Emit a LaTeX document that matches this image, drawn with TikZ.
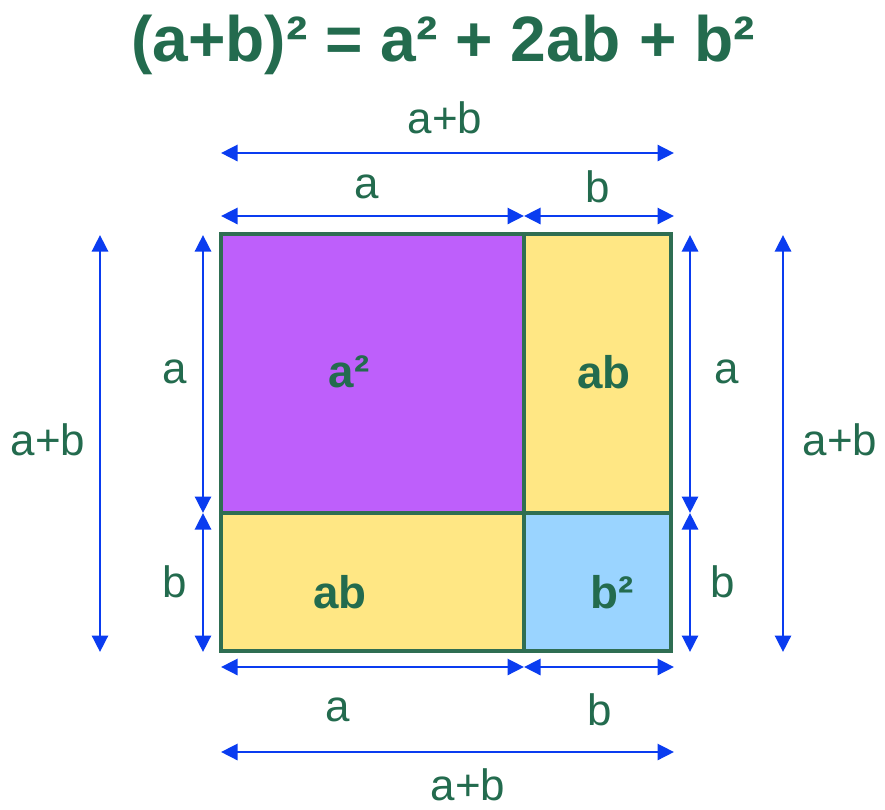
\documentclass[tikz,border=0pt]{standalone}
\usepackage{fontspec}
\setmainfont{Liberation Sans}
\usetikzlibrary{arrows.meta,positioning,calc}
\definecolor{labelgreen}{HTML}{236B4E}
\definecolor{edgegreen}{HTML}{2F6E52}
\definecolor{dimblue}{HTML}{0A3CF0}
\definecolor{areaa}{HTML}{BE5FFB}
\definecolor{areaab}{HTML}{FFE784}
\definecolor{areab}{HTML}{9AD4FF}
\tikzset{
  cell/.style={draw=edgegreen,line width=1.9pt},
  dimarrow/.style={{Triangle[length=0.33cm,width=0.32cm]}-{Triangle[length=0.33cm,width=0.32cm]},line width=1.6pt,dimblue},
  dimlabel/.style={font=\fontsize{25}{30}\selectfont,text=labelgreen},
  arealabel/.style={font=\fontsize{26}{30}\selectfont\bfseries,text=labelgreen},
  titlelabel/.style={font=\fontsize{36.5}{44}\selectfont\bfseries,text=labelgreen}
}
\begin{document}
\begin{tikzpicture}[x=0.02cm,y=-0.02cm]
  \useasboundingbox (0,0) rectangle (885,809);

  % square corners and splits
  \coordinate (tl) at (221,234);
  \coordinate (br) at (671,651);
  \coordinate (mid) at (524,513);

  % the four areas
  \fill[areaa] (tl) rectangle (mid);
  \fill[areaab] (524,234) rectangle (671,513);
  \fill[areaab] (221,513) rectangle (524,651);
  \fill[areab] (mid) rectangle (br);
  \draw[cell] (tl) rectangle (br);
  \draw[cell] (524,234) -- (524,651);
  \draw[cell] (221,513) -- (671,513);

  \node[arealabel] (sqa) at (349,372) {a²};
  \node[arealabel] (abtop) at (604,372) {ab};
  \node[arealabel] (abbot) at (340,592) {ab};
  \node[arealabel] (sqb) at (612,592) {b²};

  \node[titlelabel] (title) at (443,45) {(a+b)² = a² + 2ab + b²};

  % top dimensions
  \coordinate (t1l) at (221,153);
  \coordinate (t1r) at (674,153);
  \coordinate (t2l) at (221,216);
  \coordinate (t2m) at (524,216);
  \coordinate (t2r) at (674,216);
  \draw[dimarrow] (t1l) -- (t1r);
  \draw[dimarrow] (t2l) -- (t2m);
  \draw[dimarrow] (t2m) -- (t2r);
  \node[dimlabel] (topab) at (445,118) {a+b};
  \node[dimlabel] (topa) at (367,187) {a};
  \node[dimlabel] (topb) at (598,187) {b};

  % bottom dimensions
  \coordinate (b1l) at (221,667);
  \coordinate (b1m) at (524,667);
  \coordinate (b1r) at (674,667);
  \coordinate (b2l) at (221,752);
  \coordinate (b2r) at (674,752);
  \draw[dimarrow] (b1l) -- (b1m);
  \draw[dimarrow] (b1m) -- (b1r);
  \draw[dimarrow] (b2l) -- (b2r);
  \node[dimlabel] (bota) at (338,710) {a};
  \node[dimlabel] (botb) at (600,710) {b};
  \node[dimlabel] (botab) at (468,785) {a+b};

  % left dimensions
  \coordinate (l1t) at (100,235);
  \coordinate (l1b) at (100,652);
  \coordinate (l2t) at (203,235);
  \coordinate (l2m) at (203,513);
  \coordinate (l2b) at (203,652);
  \draw[dimarrow] (l1t) -- (l1b);
  \draw[dimarrow] (l2t) -- (l2m);
  \draw[dimarrow] (l2m) -- (l2b);
  \node[dimlabel] (leftab) at (48,440) {a+b};
  \node[dimlabel] (lefta) at (175,372) {a};
  \node[dimlabel] (leftb) at (175,582) {b};

  % right dimensions
  \coordinate (r1t) at (690,235);
  \coordinate (r1m) at (690,513);
  \coordinate (r1b) at (690,652);
  \coordinate (r2t) at (783,235);
  \coordinate (r2b) at (783,652);
  \draw[dimarrow] (r1t) -- (r1m);
  \draw[dimarrow] (r1m) -- (r1b);
  \draw[dimarrow] (r2t) -- (r2b);
  \node[dimlabel] (righta) at (727,372) {a};
  \node[dimlabel] (rightb) at (723,582) {b};
  \node[dimlabel] (rightab) at (840,440) {a+b};
\end{tikzpicture}
\end{document}
